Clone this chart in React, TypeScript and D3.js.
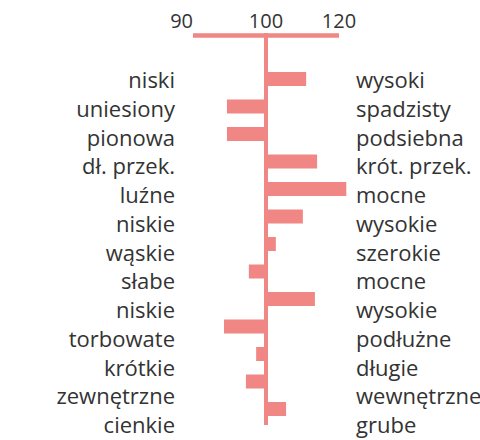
import * as d3 from "d3";

// lewa i prawa strona skali (cechy)
const leftLabels = [
  "niski", "uniesiony", "pionowa", "dł. przek.", "luźne", "niskie", "wąskie",
  "słabe", "niskie", "torbowate", "krótkie", "zewnętrzne", "cienkie",
];
const rightLabels = [
  "wysoki", "spadzisty", "podsiebna", "krót. przek.", "mocne", "wysokie", "szerokie",
  "mocne", "wysokie", "podłużne", "długie", "wewnętrzne", "grube",
];
const values = [111, 89.3, 89.3, 114, 122, 110.1, 102.7, 95.3, 113.4, 88.5, 97.3, 94.5, 105.5];

const tickValues = [80, 100, 120];
const tickLabels = ["90", "100", "120"];
const baseline = 100;

const width = 480;
const height = 440;
const color = "#f08784";
const textColor = "#333333";
const font = "'Open Sans', sans-serif";

export default function App() {
  const x = d3.scaleLinear().domain([80, 120]).range([193, 339]);
  const idx = d3.range(values.length);
  const yBar = d3.scalePoint<number>().domain(idx).range([79, 409]);
  const yText = d3.scalePoint<number>().domain(idx).range([88, 433]);
  const barH = 14;
  const x0 = x(baseline);

  return (
    <svg
      width={width}
      height={height}
      style={{ position: "absolute", left: 0, top: 0, display: "block", background: "#fff" }}
    >
      {/* oś górna */}
      <line x1={x(80)} x2={x(120)} y1={35.5} y2={35.5} stroke={color} strokeWidth={4.5} />
      {tickValues.map((t, i) => (
        <text
          key={t}
          x={x(t)}
          y={28}
          fontFamily={font}
          fontSize={20}
          fill={textColor}
          textAnchor={i === 0 ? "end" : "middle"}
        >
          {tickLabels[i]}
        </text>
      ))}

      {/* słupki */}
      {values.map((v, i) => (
        <rect
          key={i}
          x={Math.min(x(v), x0)}
          y={(yBar(i) as number) - barH / 2}
          width={Math.abs(x(v) - x0)}
          height={barH}
          fill={color}
        />
      ))}
      <line x1={x0} x2={x0} y1={33} y2={425} stroke={color} strokeWidth={4} />

      {leftLabels.map((l, i) => (
        <text key={"l" + i} x={175} y={yText(i)} textAnchor="end"
          fontFamily={font} fontSize={22} fill={textColor}>{l}</text>
      ))}
      {rightLabels.map((l, i) => (
        <text key={"r" + i} x={356} y={yText(i)} textAnchor="start"
          fontFamily={font} fontSize={22} fill={textColor}>{l}</text>
      ))}
    </svg>
  );
}
